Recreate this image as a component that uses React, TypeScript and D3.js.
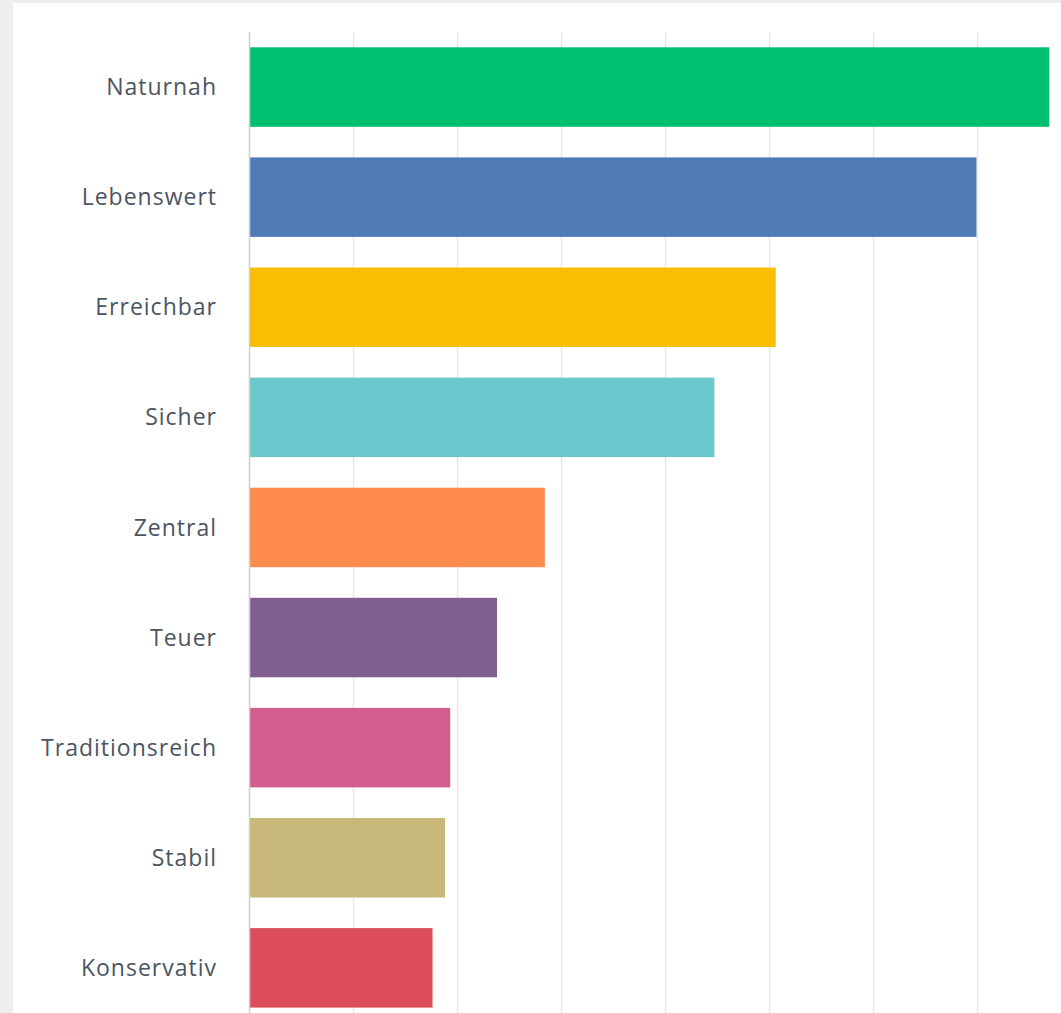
import React, { useEffect } from "react";
import * as d3 from "d3";

const categories = ["Naturnah", "Lebenswert", "Erreichbar", "Sicher", "Zentral", "Teuer", "Traditionsreich", "Stabil", "Konservativ"];
const values = [76.9, 69.9, 50.6, 44.7, 28.4, 23.8, 19.3, 18.8, 17.6];
const colors = ["#00bf6f", "#507cb6", "#f9be00", "#6bc8cd", "#ff8b4f", "#7f5e90", "#d25f90", "#c7b879", "#dc4e5b"];
const tickValues = [0, 10, 20, 30, 40, 50, 60, 70, 80];

const W = 1061;
const H = 1013;

export default function App() {
  useEffect(() => {
    document.body.style.margin = "0";
  }, []);

  const x = d3.scaleLinear().domain([0, 80]).range([249.5, 1081.5]);
  const y = d3
    .scaleBand<string>()
    .domain(categories)
    .range([32, 32 + 110.1 * 9])
    .paddingInner(0.278)
    .paddingOuter(0.139);

  return (
    <div style={{ position: "absolute", left: 0, top: 0, width: W, height: H }}>
      <svg width={W} height={H} style={{ display: "block" }}>
        <rect x={0} y={0} width={W} height={H} fill="#eeeeee" />
        <rect x={13} y={3} width={W - 13} height={H - 3} fill="#ffffff" />
        {tickValues.slice(1).map((t) => (
          <line key={t} x1={x(t)} x2={x(t)} y1={32} y2={H} stroke="#e8e8e8" strokeWidth={1.5} />
        ))}
        {categories.map((c, i) => (
          <rect key={c} x={x(0)} y={y(c)} width={x(values[i]) - x(0)} height={y.bandwidth()} fill={colors[i]} />
        ))}
        <line x1={x(0)} x2={x(0)} y1={32} y2={H} stroke="#cfcfcf" strokeWidth={1.5} />
        {categories.map((c) => (
          <text
            key={c}
            x={217}
            y={(y(c) as number) + y.bandwidth() / 2}
            dy="0.35em"
            textAnchor="end"
            fontFamily="'Open Sans', sans-serif"
            fontSize={23}
            letterSpacing={1}
            fill="#4b5562"
          >
            {c}
          </text>
        ))}
      </svg>
    </div>
  );
}
